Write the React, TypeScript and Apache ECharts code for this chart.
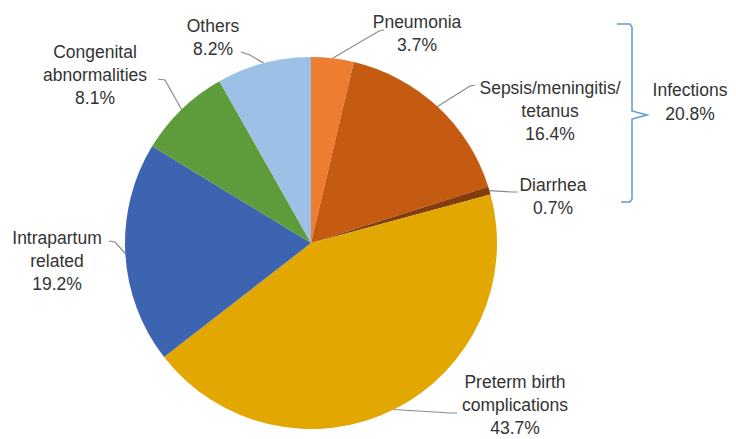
import React, { useEffect, useRef } from "react";
import * as echarts from "echarts";

const categories = [
  "Pneumonia",
  "Sepsis/meningitis/\ntetanus",
  "Diarrhea",
  "Preterm birth\ncomplications",
  "Intrapartum\nrelated",
  "Congenital\nabnormalities",
  "Others",
];
const values = [3.7, 16.4, 0.7, 43.7, 19.2, 8.1, 8.2];
const infectionGroup = [0, 1, 2];
const groupLabel = "Infections";

const colors = ["#ED7D31", "#C55A11", "#843C0C", "#E2A700", "#3C64B0", "#5E9C3B", "#9DC0E6"];

// label layout: [labelCenterX, labelCenterY, elbowX, elbowY, endX, endY]
const labelLayouts = [
  [417, 33, 379, 31, 384, 30],
  [550, 111, 470, 86, 475, 85],
  [553, 196, 512, 192, 518, 192],
  [515, 405, 450, 413, 457, 413],
  [57, 261, 115, 242, 109, 241],
  [95, 75, 165, 80, 158, 79],
  [213, 37, 250, 55, 241, 52],
];

export default function App() {
  const ref = useRef<HTMLDivElement>(null);
  useEffect(() => {
    document.body.style.margin = "0";
    const chart = echarts.init(ref.current!, null, { renderer: "svg" });
    const infectionsTotal = infectionGroup.reduce((s, i) => s + values[i], 0);
    const textStyle = { fontFamily: "Liberation Sans, Arial, sans-serif", fontSize: 17.5, color: "#333333" };
    chart.setOption({
      animation: false,
      backgroundColor: "#ffffff",
      series: [
        {
          type: "pie",
          center: [311, 243],
          radius: 186,
          startAngle: 90,
          clockwise: true,
          data: categories.map((c, i) => ({
            name: c,
            value: values[i],
            itemStyle: { color: colors[i] },
          })),
          label: {
            show: true,
            position: "outside",
            formatter: (p: any) => `${p.name}\n${p.value.toFixed(1)}%`,
            ...textStyle,
            lineHeight: 23,
            align: "center",
          },
          labelLine: {
            show: true,
            length: 10,
            length2: 10,
            lineStyle: { color: "#8a8a8a", width: 1.2 },
          },
          labelLayout: (params: any) => {
            const L = labelLayouts[params.dataIndex];
            const pts = params.labelLinePoints;
            const p0 = pts && pts[0] ? [pts[0][0], pts[0][1]] : [L[2], L[3]];
            return {
              x: L[0],
              y: L[1],
              align: "center",
              verticalAlign: "middle",
              labelLinePoints: [p0, [L[2], L[3]], [L[4], L[5]]],
            };
          },
          emphasis: { disabled: true },
        },
      ],
      graphic: [
        {
          type: "polyline",
          shape: {
            points: [
              [617, 24],
              [630, 24],
              [632, 27],
              [632, 111],
              [647, 115],
              [632, 119],
              [632, 199],
              [630, 202],
              [621, 202],
            ],
          },
          style: { stroke: "#5B9BD5", lineWidth: 1.5, fill: "none" },
        },
        {
          type: "text",
          x: 690,
          y: 102,
          style: {
            text: `${groupLabel}\n${infectionsTotal.toFixed(1)}%`,
            ...textStyle,
            fill: "#333333",
            lineHeight: 24,
            align: "center",
            verticalAlign: "middle",
          },
        },
      ],
    });
    return () => chart.dispose();
  }, []);
  return <div ref={ref} style={{ width: 736, height: 439 }} />;
}
